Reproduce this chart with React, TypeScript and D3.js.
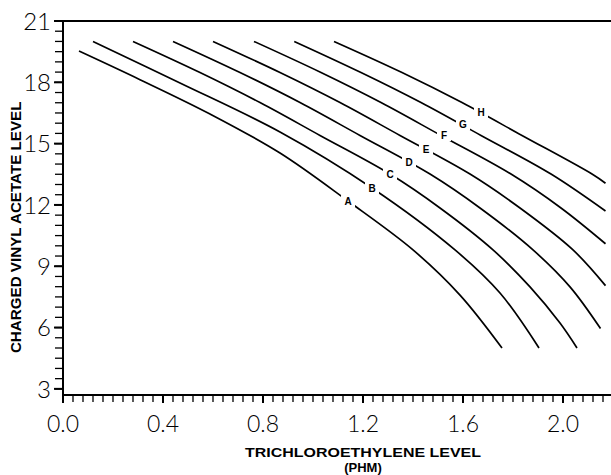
import React from "react";
import * as d3 from "d3";

const W = 611;
const H = 475;

const xTickValues = [0, 0.4, 0.8, 1.2, 1.6, 2.0];
const xTickLabels = ["0.0", "0.4", "0.8", "1.2", "1.6", "2.0"];
const yTickValues = [3, 6, 9, 12, 15, 18, 21];
const yTickLabels = ["3", "6", "9", "12", "15", "18", "21"];

const curveNames = ["A", "B", "C", "D", "E", "F", "G", "H"];

const curveA: [number, number][] = [
  [0.064, 19.53], [0.308, 18.13], [0.588, 16.45], [0.868, 14.54],
  [1.14, 12.19], [1.4, 9.8], [1.588, 7.59], [1.756, 5.0],
];
const curveB: [number, number][] = [
  [0.12, 20.0], [0.468, 17.97], [0.868, 15.57], [1.236, 12.83],
  [1.568, 9.8], [1.748, 7.69], [1.904, 5.0],
];
const curveC: [number, number][] = [
  [0.28, 20.0], [0.548, 18.48], [0.788, 17.01], [1.028, 15.4], [1.308, 13.51],
  [1.508, 11.85], [1.72, 9.8], [1.868, 7.99], [1.988, 6.22], [2.056, 5.0],
];
const curveD: [number, number][] = [
  [0.44, 20.0], [0.708, 18.48], [0.948, 17.01], [1.188, 15.4], [1.468, 13.51],
  [1.668, 11.85], [1.88, 9.8], [2.028, 7.99], [2.15, 5.95],
];
const curveE: [number, number][] = [
  [0.6, 20.0], [0.868, 18.48], [1.108, 17.01], [1.348, 15.4], [1.628, 13.51],
  [1.828, 11.85], [2.04, 9.8], [2.17, 8.05],
];
const curveF: [number, number][] = [
  [0.764, 20.0], [1.032, 18.48], [1.272, 17.01], [1.512, 15.4], [1.792, 13.51],
  [1.992, 11.85], [2.17, 10.1],
];
const curveG: [number, number][] = [
  [0.925, 20.0], [1.192, 18.48], [1.432, 17.01], [1.672, 15.4], [1.952, 13.51],
  [2.17, 11.7],
];
const curveH: [number, number][] = [
  [1.084, 20.0], [1.356, 18.48], [1.596, 17.01], [1.836, 15.4], [2.116, 13.51],
  [2.17, 13.06],
];
const curves = [curveA, curveB, curveC, curveD, curveE, curveF, curveG, curveH];

const labelX = [1.14, 1.236, 1.308, 1.384, 1.452, 1.524, 1.6, 1.672];
const labelY = [12.19, 12.83, 13.51, 14.1, 14.74, 15.42, 15.96, 16.55];

export default function App() {
  const left = 63;
  const right = 611;
  const top = 21;
  const bottom = 395;
  const x = d3.scaleLinear().domain([0, 2.192]).range([left, right]);
  const y = d3.scaleLinear().domain([2.7, 21]).range([bottom, top]);
  const line = d3
    .line<[number, number]>()
    .x((d) => x(d[0]))
    .y((d) => y(d[1]))
    .curve(d3.curveCatmullRom.alpha(0.5));

  const xMinor = d3.range(0, 2.19, 0.04);
  const yMinor = d3.range(3, 21.01, 0.5);
  const tickFont = "Lato, 'DejaVu Sans', sans-serif";
  const titleFont = "'Liberation Sans', Arial, sans-serif";

  const xTitleCenter = x(1.2);
  const xTitleLen = x(1.6) - x(0.8) + 36;
  const yTitleCenter = (y(17.06) + y(4.75)) / 2;
  const yTitleLen = y(4.75) - y(17.06);

  return (
    <svg
      width={W}
      height={H}
      style={{ position: "absolute", left: 0, top: 0, background: "#fff" }}
    >
      <rect x={0} y={0} width={W} height={H} fill="#fff" />
      {curves.map((c, i) => (
        <path key={i} d={line(c) || ""} fill="none" stroke="#000" strokeWidth={1.7} />
      ))}
      {curveNames.map((n, i) => (
        <g key={n} transform={`translate(${x(labelX[i])},${y(labelY[i])})`}>
          <rect x={-7} y={-6} width={14} height={12} fill="#fff" />
          <text
            textAnchor="middle"
            dy="0.36em"
            fontSize={10}
            fontWeight="bold"
            fontFamily={titleFont}
            fill="#000"
          >
            {n}
          </text>
        </g>
      ))}
      <line x1={left} x2={right} y1={top} y2={top} stroke="#000" strokeWidth={2} />
      <line x1={left} x2={left} y1={top} y2={bottom} stroke="#000" strokeWidth={2} />
      <line x1={left} x2={right} y1={bottom} y2={bottom} stroke="#000" strokeWidth={2} />
      {yMinor.map((v) => (
        <line key={"ym" + v} x1={left - 8} x2={left} y1={y(v)} y2={y(v)} stroke="#000" strokeWidth={1.3} />
      ))}
      {yTickValues.map((v, i) => (
        <g key={"yt" + v}>
          <line x1={left - 9} x2={left} y1={y(v)} y2={y(v)} stroke="#000" strokeWidth={2} />
          <text
            x={left - 12}
            y={y(v)}
            dy="0.36em"
            textAnchor="end"
            fontSize={24}
            fontWeight={300}
            fontFamily={tickFont}
            fill="#000"
          >
            {yTickLabels[i]}
          </text>
        </g>
      ))}
      {xMinor.map((v) => (
        <line key={"xm" + v} x1={x(v)} x2={x(v)} y1={bottom} y2={bottom + 7} stroke="#000" strokeWidth={1.3} />
      ))}
      {xTickValues.map((v, i) => (
        <g key={"xt" + v}>
          <line x1={x(v)} x2={x(v)} y1={bottom} y2={bottom + 8} stroke="#000" strokeWidth={2} />
          <text
            x={x(v)}
            y={432}
            textAnchor="middle"
            fontSize={23}
            fontWeight={300}
            fontFamily={tickFont}
            fill="#000"
          >
            {xTickLabels[i]}
          </text>
        </g>
      ))}
      <text
        transform={`translate(21,${yTitleCenter}) rotate(-90)`}
        textAnchor="middle"
        fontSize={14}
        fontWeight="bold"
        fontFamily={titleFont}
        fill="#000"
        textLength={yTitleLen}
        lengthAdjust="spacingAndGlyphs"
      >
        CHARGED VINYL ACETATE LEVEL
      </text>
      <text
        x={xTitleCenter}
        y={457}
        textAnchor="middle"
        fontSize={13}
        fontWeight="bold"
        fontFamily={titleFont}
        fill="#000"
        textLength={xTitleLen}
        lengthAdjust="spacingAndGlyphs"
      >
        TRICHLOROETHYLENE LEVEL
      </text>
      <text x={xTitleCenter} y={472} textAnchor="middle" fontSize={13} fontWeight="bold" fontFamily={titleFont} fill="#000">
        (PHM)
      </text>
    </svg>
  );
}
